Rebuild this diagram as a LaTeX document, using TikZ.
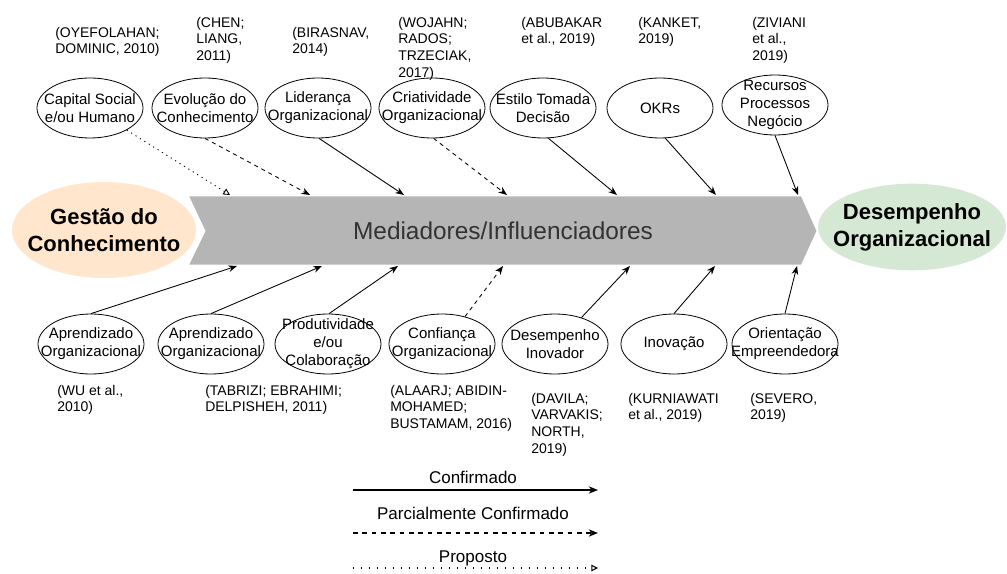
\documentclass[tikz,border=0pt]{standalone}
\usepackage{fontspec}
\setmainfont{Liberation Sans}
\usetikzlibrary{shapes.geometric,arrows.meta}
\definecolor{peach}{HTML}{FFE6CC}
\definecolor{mint}{HTML}{D5E8D4}
\definecolor{cgray}{HTML}{B5B5B5}
\definecolor{dtext}{HTML}{333333}
\begin{document}
\begin{tikzpicture}[x=0.75pt,y=-0.75pt,
  ell/.style={ellipse, draw, line width=0.6pt, minimum width=79.5pt, minimum height=45pt, inner sep=0pt},
  lbl/.style={align=center, font=\fontsize{11.25pt}{13.5pt}\selectfont, inner sep=0pt},
  cite/.style={align=left, anchor=north west, inner sep=0pt, font=\fontsize{10.5pt}{12.4pt}\selectfont},
  conn/.style={line width=0.65pt, -{Stealth[length=6.5pt,width=5pt]}},
  partial/.style={conn, dash pattern=on 3pt off 3pt},
  proposed/.style={line width=0.65pt, dash pattern=on 0.9pt off 3pt, -{Triangle[open,length=5pt,width=5pt]}},
  title/.style={align=center, inner sep=0pt, font=\fontsize{16.5pt}{20.25pt}\selectfont\bfseries},
  legtxt/.style={font=\fontsize{12.75pt}{15pt}\selectfont, inner sep=0pt},
]
\useasboundingbox (0,0) rectangle (1007,574);

% left title ellipse
\node[ellipse, fill=peach, minimum width=138pt, minimum height=72pt, inner sep=0pt,
      label={[title]center:{Gestão do\\Conhecimento}}] (gc) at (104,230) {};

% chevron
\filldraw[fill=cgray, draw=white, line width=2pt] (187,195) -- (802,195) -- (818,231) -- (802,266) -- (187,266) -- (204,231) -- cycle;
\node[text=dtext, inner sep=0pt, font=\fontsize{18.3pt}{22pt}\selectfont] (mid) at (503,231) {Mediadores/Influenciadores};

% right title ellipse
\node[ellipse, fill=mint, minimum width=141pt, minimum height=65pt, inner sep=0pt,
      label={[title]center:{Desempenho\\Organizacional}}] (do) at (912,227) {};

% top mediators
\node[ell, label={[lbl]center:{Capital Social\\e/ou Humano}}] (t1) at (90,108) {};
\node[ell, label={[lbl]center:{Evolução do\\Conhecimento}}] (t2) at (205,108) {};
\node[ell, label={[lbl]center:{Liderança\\Organizacional}}] (t3) at (318,108) {};
\node[ell, label={[lbl]center:{Criatividade\\Organizacional}}] (t4) at (432,108) {};
\node[ell, label={[lbl]center:{Estilo Tomada\\Decisão}}] (t5) at (543,108) {};
\node[ell, label={[lbl]center:{OKRs}}] (t6) at (660,108) {};
\node[ell, label={[lbl]center:{Recursos\\Processos\\Negócio}}] (t7) at (775,105) {};

% bottom mediators
\node[ell, label={[lbl]center:{Aprendizado\\Organizacional}}] (b1) at (91,344) {};
\node[ell, label={[lbl]center:{Aprendizado\\Organizacional}}] (b2) at (211,344) {};
\node[ell, label={[lbl]center:{Produtividade\\e/ou\\Colaboração}}] (b3) at (328,344) {};
\node[ell, label={[lbl]center:{Confiança\\Organizacional}}] (b4) at (442,344) {};
\node[ell, label={[lbl]center:{Desempenho\\Inovador}}] (b5) at (555,344) {};
\node[ell, label={[lbl]center:{Inovação}}] (b6) at (674,344) {};
\node[ell, label={[lbl]center:{Orientação\\Empreendedora}}] (b7) at (785,344) {};

% citations top
\node[cite] (c1) at (55,27) {(OYEFOLAHAN;\\DOMINIC, 2010)};
\node[cite] (c2) at (196,17) {(CHEN;\\LIANG,\\2011)};
\node[cite] (c3) at (292,27) {(BIRASNAV,\\2014)};
\node[cite] (c4) at (398,17) {(WOJAHN;\\RADOS;\\TRZECIAK,\\2017)};
\node[cite] (c5) at (521,17) {(ABUBAKAR\\et al., 2019)};
\node[cite] (c6) at (638,17) {(KANKET,\\2019)};
\node[cite] (c7) at (752,17) {(ZIVIANI\\et al.,\\2019)};
% citations bottom
\node[cite] (d1) at (57,385) {(WU et al.,\\2010)};
\node[cite] (d2) at (205,385) {(TABRIZI; EBRAHIMI;\\DELPISHEH, 2011)};
\node[cite] (d3) at (390,385) {(ALAARJ; ABIDIN-\\MOHAMED;\\BUSTAMAM, 2016)};
\node[cite] (d4) at (531,393) {(DAVILA;\\VARVAKIS;\\NORTH,\\2019)};
\node[cite] (d5) at (628,393) {(KURNIAWATI\\et al., 2019)};
\node[cite] (d6) at (750,393) {(SEVERO,\\2019)};

% connector targets on chevron
\coordinate (e1) at (230,195);
\coordinate (e2) at (310,195);
\coordinate (e3) at (404,195);
\coordinate (e4) at (507,195);
\coordinate (e5) at (617,195);
\coordinate (e6) at (716,195);
\coordinate (e7) at (798,195);
\coordinate (f1) at (237,266);
\coordinate (f2) at (322,266);
\coordinate (f3) at (398,266);
\coordinate (f4) at (503,266);
\coordinate (f5) at (630,266);
\coordinate (f6) at (715,266);
\coordinate (f7) at (797,266);

\draw[proposed] (t1.-31) -- (e1);
\draw[partial] (t2.south) -- (e2);
\draw[conn] (t3.-88) -- (e3);
\draw[partial] (t4.-87) -- (e4);
\draw[conn] (t5.-80) -- (e5);
\draw[conn] (t6.-80) -- (e6);
\draw[conn] (t7.south) -- (e7);

\draw[conn] (b1.north) -- (f1);
\draw[conn] (b2.north) -- (f2);
\draw[conn] (b3.88) -- (f3);
\draw[partial] (b4.50) -- (f4);
\draw[conn] (b5.45) -- (f5);
\draw[conn] (b6.north) -- (f6);
\draw[conn] (b7.north) -- (f7);

% legend
\node[legtxt] (l1) at (473,477) {Confirmado};
\node[legtxt] (l2) at (473,513) {Parcialmente Confirmado};
\node[legtxt] (l3) at (473,558) {Proposto};
\coordinate (l1a) at (353,490); \coordinate (l1b) at (598,490);
\coordinate (l2a) at (353,533); \coordinate (l2b) at (598,533);
\coordinate (l3a) at (353,568); \coordinate (l3b) at (598,568);
\draw[line width=0.8pt, -{Stealth[length=7pt,width=5.5pt]}] (l1a) -- (l1b);
\draw[line width=0.8pt, dash pattern=on 3.5pt off 3.5pt, -{Stealth[length=7pt,width=5.5pt]}] (l2a) -- (l2b);
\draw[line width=0.8pt, dash pattern=on 1pt off 5pt, -{Triangle[open,length=5pt,width=5pt]}] (l3a) -- (l3b);
\end{tikzpicture}
\end{document}
